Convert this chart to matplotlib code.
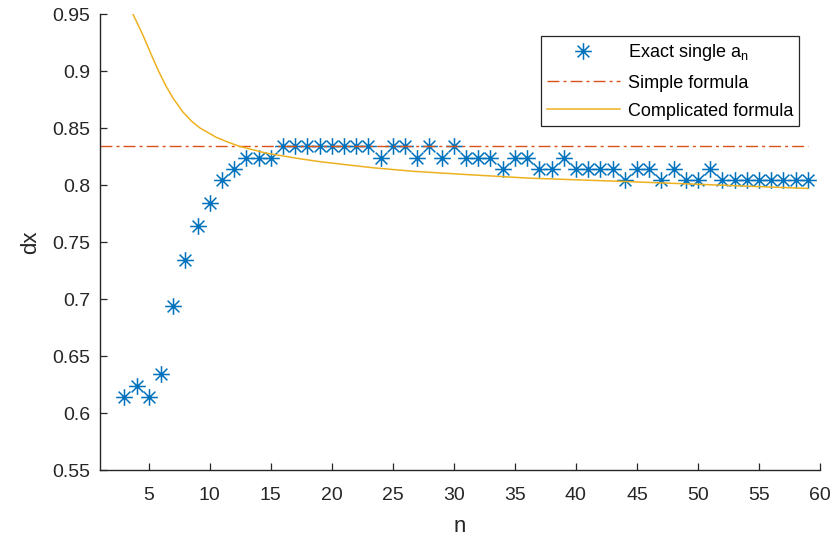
import matplotlib
matplotlib.use("Agg")
import matplotlib.pyplot as plt
from matplotlib.path import Path
from matplotlib.ticker import FuncFormatter, MultipleLocator

plt.rcParams['font.family'] = ['Liberation Sans', 'DejaVu Sans']
plt.rcParams['mathtext.default'] = 'regular'

# exact single a_n, one point per n
n_exact = list(range(3, 60))
dx_exact = [0.614, 0.624, 0.614, 0.634, 0.694, 0.734, 0.764, 0.784,
            0.804, 0.814, 0.824, 0.824, 0.824,
            0.834, 0.834, 0.834, 0.834, 0.834, 0.834, 0.834, 0.834,
            0.824, 0.834, 0.834, 0.824, 0.834, 0.824, 0.834,
            0.824, 0.824, 0.824, 0.814, 0.824, 0.824, 0.814, 0.814, 0.824,
            0.814, 0.814, 0.814, 0.814, 0.804, 0.814, 0.814, 0.804, 0.814,
            0.804, 0.804, 0.814,
            0.804, 0.804, 0.804, 0.804, 0.804, 0.804, 0.804, 0.804]

# simple formula (constant)
n_simple = [1, 59]
dx_simple = [0.8345, 0.8345]

# complicated formula
n_comp = [3.7, 4.1, 4.5, 4.9, 5.3, 5.8, 6.4, 7.0, 7.8, 8.5, 9.2, 10.5,
          11.4, 12.4, 13.5, 14.6, 16.0, 17.4, 19.0, 21.0, 23.5, 26.7,
          30.5, 36.2, 44.2, 51.5, 59.0]
dx_comp = [0.950, 0.941, 0.932, 0.922, 0.912, 0.900, 0.887, 0.876, 0.864,
           0.856, 0.850, 0.842, 0.838, 0.834, 0.831, 0.828, 0.8255, 0.823,
           0.8205, 0.818, 0.815, 0.812, 0.8095, 0.806, 0.803, 0.800, 0.797]

blue = '#0072BD'
orange = '#D95319'
yellow = '#EDB120'
txt = '#262626'

# matlab style asterisk: + and x on top of each other
d = 0.7071
asterisk = Path([(-1, 0), (1, 0), (0, -1), (0, 1),
                 (-d, -d), (d, d), (-d, d), (d, -d)],
                [Path.MOVETO, Path.LINETO] * 4)

fig = plt.figure(figsize=(8.33, 5.45), dpi=100)
ax = fig.add_axes([0.12, 0.1376, 0.8644, 0.8367])

ax.plot(n_exact, dx_exact, linestyle='none', marker=asterisk, markersize=12,
        markeredgewidth=1.1, markeredgecolor=blue, markerfacecolor='none',
        color=blue, label='Exact single a$_{n}$')
ax.plot(n_simple, dx_simple, color=orange, lw=1.0,
        linestyle=(0, (8.6, 2.9, 2.2, 2.9)), label='Simple formula')
ax.plot(n_comp, dx_comp, color=yellow, lw=1.1, label='Complicated formula')

ax.set_xlim(1, 60)
ax.set_ylim(0.55, 0.95)
ax.xaxis.set_major_locator(MultipleLocator(5))
ax.yaxis.set_major_locator(MultipleLocator(0.05))
ax.xaxis.set_major_formatter(FuncFormatter(lambda v, p: '' if v < 5 else f'{v:g}'))
ax.yaxis.set_major_formatter(FuncFormatter(lambda v, p: f'{v:.2f}'.rstrip('0')))

for s in ['top', 'right']:
    ax.spines[s].set_visible(False)
for s in ['left', 'bottom']:
    ax.spines[s].set_color(txt)
    ax.spines[s].set_linewidth(1.0)

ax.tick_params(axis='both', direction='in', length=5, width=0.9, colors=txt,
               labelsize=14)
ax.tick_params(axis='x', pad=12)
ax.tick_params(axis='y', pad=7)

ax.set_xlabel('n', fontsize=16, color=txt, labelpad=9)
ax.set_ylabel('dx', fontsize=16, color=txt, labelpad=8)

leg = ax.legend(loc='upper left', bbox_to_anchor=(541 / 833, 1 - 36 / 545),
                bbox_transform=fig.transFigure, borderaxespad=0,
                fontsize=13, frameon=True, fancybox=False, framealpha=1,
                edgecolor=txt, handlelength=4.0, handletextpad=0.45,
                labelspacing=0.62, borderpad=0.35)
leg.get_frame().set_linewidth(0.9)

fig.savefig('out.png', dpi=100, facecolor='white')
